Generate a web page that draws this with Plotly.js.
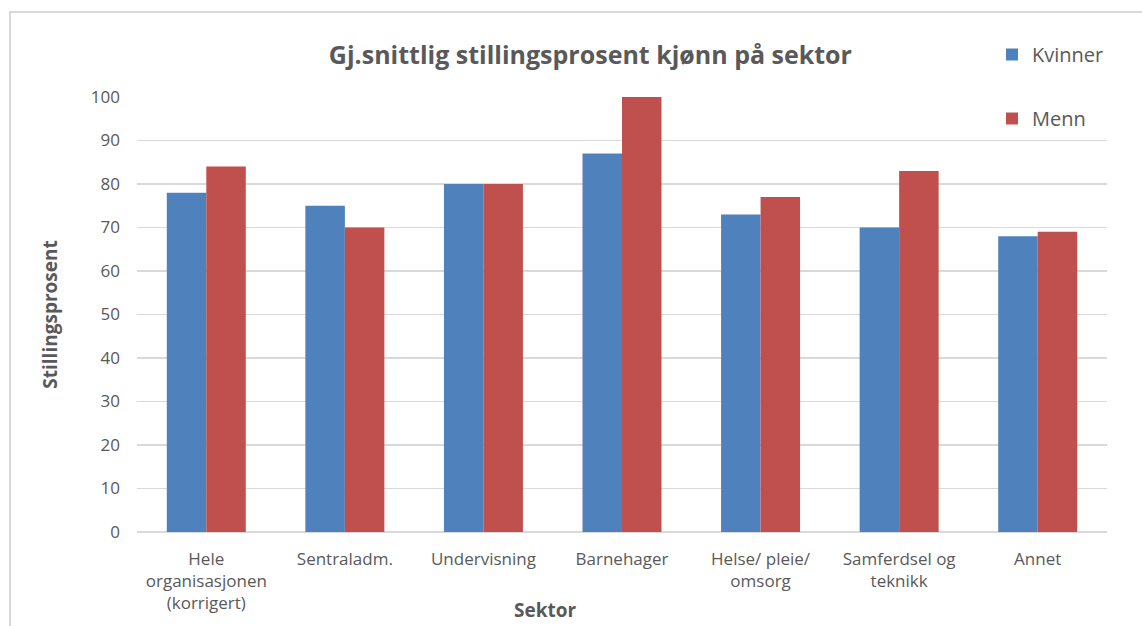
<!DOCTYPE html>
<html><head><meta charset="utf-8">
<script src="https://cdn.plot.ly/plotly-3.0.1.min.js"></script>
<style>
html,body{margin:0;padding:0;background:#fff;}
#chart{width:1142px;height:626px;position:absolute;left:0;top:0;}
#frame{position:absolute;left:9px;top:11px;width:1140px;height:620px;border:2px solid #d9d9d9;pointer-events:none;box-sizing:border-box;}
</style></head>
<body>
<div id="chart"></div>
<div id="frame"></div>
<script>
const categories = ["Hele<br>organisasjonen<br>(korrigert)", "Sentraladm.", "Undervisning", "Barnehager", "Helse/ pleie/<br>omsorg", "Samferdsel og<br>teknikk", "Annet"];
const kvinner = [78, 75, 80, 87, 73, 70, 68];
const menn = [84, 70, 80, 100, 77, 83, 69];
const yTicks = [0, 10, 20, 30, 40, 50, 60, 70, 80, 90, 100];

const font = "Open Sans, Noto Sans, sans-serif";
const traces = [
  {type:'bar', name:'Kvinner', x:categories, y:kvinner, marker:{color:'#4f81bd'}, legendgroup:'k'},
  {type:'bar', name:'Menn', x:categories, y:menn, marker:{color:'#c0504d'}, legendgroup:'m'}
];
const W = 1142, H = 626;
const L = 137, R = 1107, T = 97, B = 532;
const layout = {
  width: W, height: H,
  paper_bgcolor:'rgba(0,0,0,0)', plot_bgcolor:'rgba(0,0,0,0)',
  margin:{l:L, r:W-R, t:T, b:H-B, pad:0},
  barmode:'group', bargap:0.43, bargroupgap:0,
  font:{family:font, color:'#595959', size:17},
  title:{text:'<b>Gj.snittlig stillingsprosent kjønn på sektor</b>', x:0.517, xanchor:'center', y:1-55/H, yanchor:'middle', font:{size:25, color:'#595959', family:font}},
  xaxis:{type:'category', showgrid:false, showline:false, zeroline:false, ticks:'', tickfont:{size:17, color:'#595959'},
    ticklabelstandoff:15},
  yaxis:{range:[0,100], tickvals:yTicks, ticktext:yTicks.map(String), showgrid:true, gridcolor:'#d9d9d9', gridwidth:1.5,
    zeroline:true, zerolinecolor:'#d9d9d9', zerolinewidth:1.5, showline:false, ticks:'', ticklen:0,
    tickfont:{size:17, color:'#595959'}, automargin:false, ticklabelstandoff:16,
    title:{text:'<b>Stillingsprosent</b>', font:{size:19, color:'#595959'}, standoff:28}},
  legend:{x:(992-L)/(R-L), xref:'paper', y:1+(T-35)/(B-T), yanchor:'top', xanchor:'left', bgcolor:'rgba(0,0,0,0)',
    font:{size:20, color:'#595959'}, tracegroupgap:35, itemwidth:30},
  annotations:[{text:'<b>Sektor</b>', xref:'paper', yref:'paper', x:(545-L)/(R-L), y:-(610-B)/(B-T), xanchor:'center', yanchor:'middle', showarrow:false, font:{size:19, color:'#595959'}}],
  showlegend:true
};
Plotly.newPlot('chart', traces, layout, {displayModeBar:false, staticPlot:true});
</script>
</body></html>
